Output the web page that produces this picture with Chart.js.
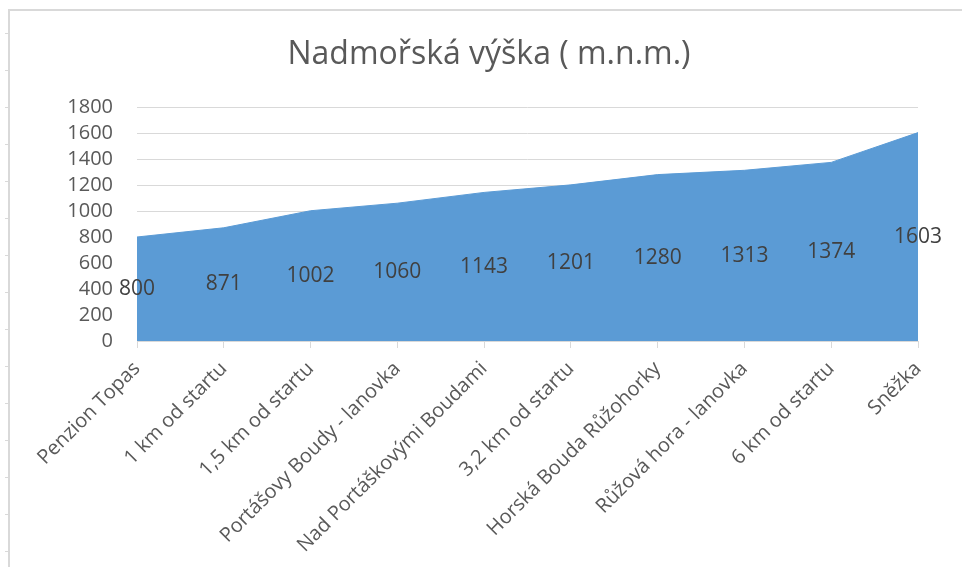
<!DOCTYPE html>
<html>
<head>
<meta charset="utf-8">
<script src="https://cdn.jsdelivr.net/npm/chart.js@4/dist/chart.umd.min.js"></script>
<style>
  html, body { margin: 0; padding: 0; background: #ffffff; }
  #wrap { position: absolute; left: 0; top: 0; width: 962px; height: 567px; }
</style>
</head>
<body>
<div id="wrap"><canvas id="c" width="962" height="567"></canvas></div>
<script>
const categories = [
  "Penzion Topas",
  "1 km od startu",
  "1,5 km od startu",
  "Portášovy Boudy - lanovka",
  "Nad Portáškovými Boudami",
  "3,2 km od startu",
  "Horská Bouda Růžohorky",
  "Růžová hora - lanovka",
  "6 km od startu",
  "Sněžka"
];
const elevations = [800, 871, 1002, 1060, 1143, 1201, 1280, 1313, 1374, 1603];
const titleText = "Nadmořská výška ( m.n.m.)";
const yMin = 0, yMax = 1800, yStep = 200;

const FONT = "'Open Sans', 'DejaVu Sans', sans-serif";

const framePlugin = {
  id: 'frame',
  beforeDraw(chart) {
    const ctx = chart.ctx;
    ctx.save();
    ctx.fillStyle = '#ffffff';
    ctx.fillRect(0, 0, chart.width, chart.height);
    ctx.strokeStyle = '#d9d9d9';
    ctx.lineWidth = 2;
    ctx.beginPath();
    ctx.moveTo(8, 10); ctx.lineTo(chart.width, 10);
    ctx.moveTo(9, 10); ctx.lineTo(9, chart.height);
    ctx.stroke();
    ctx.lineWidth = 1;
    ctx.beginPath();
    for (let y = 33; y < chart.height; y += 37) {
      ctx.moveTo(5, y + 0.5); ctx.lineTo(8, y + 0.5);
    }
    ctx.stroke();
    // title
    ctx.font = "32px " + FONT;
    ctx.fillStyle = '#595959';
    ctx.textAlign = 'center';
    ctx.textBaseline = 'middle';
    ctx.fillText(titleText, 489, 55);
    ctx.restore();
  }
};

const labelPlugin = {
  id: 'midLabels',
  afterDatasetsDraw(chart) {
    const ctx = chart.ctx;
    const meta = chart.getDatasetMeta(0);
    const ys = chart.scales.y;
    ctx.save();
    ctx.font = "21px " + FONT;
    ctx.fillStyle = '#404040';
    ctx.textAlign = 'center';
    ctx.textBaseline = 'middle';
    meta.data.forEach((pt, i) => {
      const v = chart.data.datasets[0].data[i];
      ctx.fillText(String(v), pt.x, ys.getPixelForValue(v / 2));
    });
    ctx.restore();
  }
};

new Chart(document.getElementById('c'), {
  type: 'line',
  data: {
    labels: categories,
    datasets: [{
      data: elevations,
      fill: 'origin',
      backgroundColor: '#5b9bd5',
      borderColor: '#5b9bd5',
      borderWidth: 1,
      pointRadius: 0,
      tension: 0
    }]
  },
  options: {
    responsive: false,
    animation: false,
    devicePixelRatio: 1,
    layout: { padding: { left: 10, right: 44, top: 107, bottom: 0 } },
    plugins: {
      legend: { display: false },
      tooltip: { enabled: false },
      title: { display: false }
    },
    scales: {
      x: {
        offset: false,
        grid: { drawOnChartArea: false, drawTicks: true, tickLength: 7, color: '#d9d9d9' },
        border: { display: true, color: '#d9d9d9', width: 1 },
        ticks: {
          color: '#595959',
          font: { family: FONT, size: 20 },
          maxRotation: 45, minRotation: 45,
          autoSkip: false,
          padding: 9
        },
        afterFit(scale) { scale.height = 567 - 341; }
      },
      y: {
        min: yMin, max: yMax,
        grid: { color: '#d9d9d9', drawTicks: false, lineWidth: 1 },
        border: { display: false },
        ticks: {
          stepSize: yStep,
          autoSkip: false,
          color: '#595959',
          font: { family: FONT, size: 20 },
          padding: 24,
          callback: (v) => String(v)
        },
        afterFit(scale) { scale.width = 137 - 10; }
      }
    }
  },
  plugins: [framePlugin, labelPlugin]
});
</script>
</body>
</html>
